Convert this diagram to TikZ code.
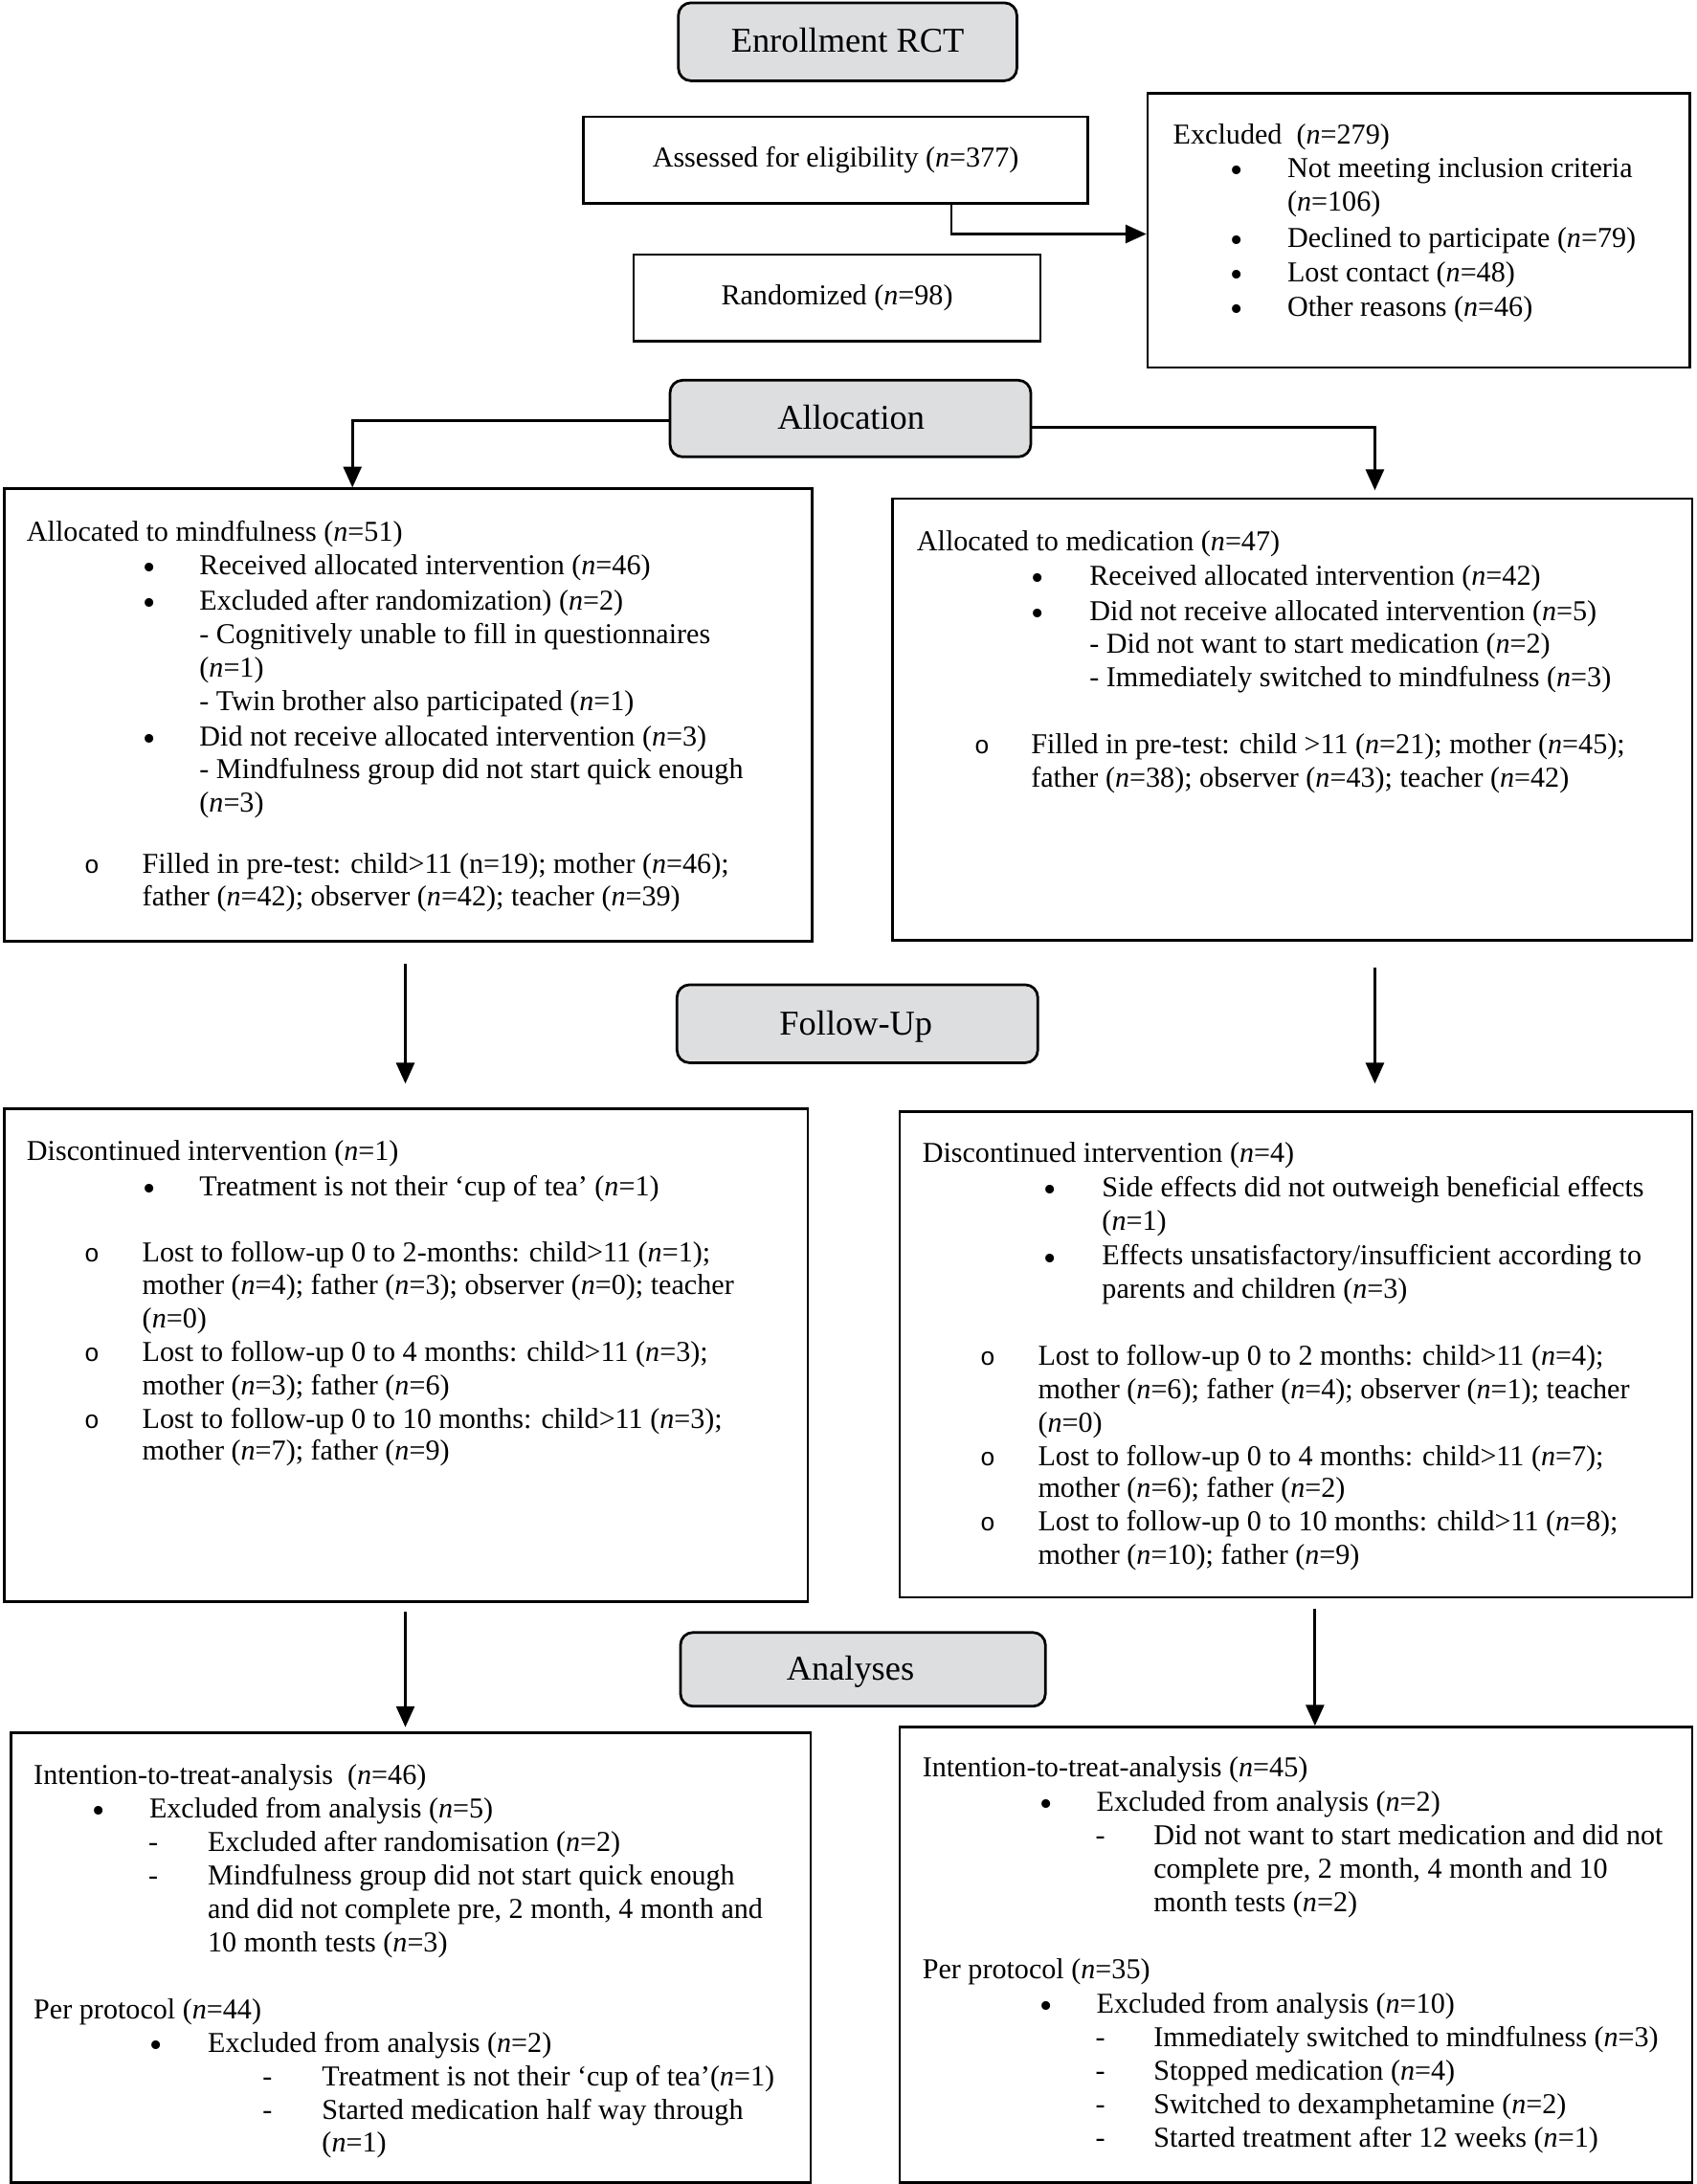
\documentclass[tikz,border=0pt]{standalone}
\usepackage{fontspec}
\setmainfont{Liberation Serif}
\newfontfamily\monofam{Liberation Mono}
\usetikzlibrary{arrows.meta}
\definecolor{titlegray}{RGB}{221,222,224}
\newcommand{\itn}{\textit{n}}
\begin{document}
\begin{tikzpicture}[x=1pt,y=-1pt,
 box/.style={draw, line width=1.8pt, inner sep=0pt, anchor=north west, font=\fontsize{20.7}{24.4}\selectfont},
 ttl/.style={draw, line width=1.9pt, rounded corners=9pt, fill=titlegray, inner sep=0pt},
 ttltxt/.style={inner sep=0pt, anchor=mid, yshift=-6pt, font=\fontsize{25}{30}\selectfont},
 txt/.style={anchor=mid west, inner sep=0pt, yshift=-5pt, font=\fontsize{20.7}{24.4}\selectfont},
 bul/.style={anchor=mid, inner sep=0pt, yshift=-5pt, font=\fontsize{20.7}{24.4}\selectfont},
 dot/.style={anchor=mid, inner sep=0pt, yshift=-8.5pt, font=\fontsize{26}{26}\selectfont},
 circ/.style={anchor=mid, inner sep=0pt, yshift=-5pt, font=\monofam\fontsize{18}{24}\selectfont},
 arr/.style={line width=2pt, -{Triangle[length=15pt,width=13pt]}}]
\useasboundingbox (0,0) rectangle (1218,1568);

% ---------- Enrollment ----------
\node[ttl, minimum width=243pt, minimum height=56pt] (enr) at (608.5,30) {};
\node[ttltxt] (enrT) at (608.5,29) {Enrollment RCT};

\node[box, minimum width=362pt, minimum height=62pt] (assess) at (418,83) {\raisebox{-1.5pt}{Assessed for eligibility (\itn=377)}};
\node[box, minimum width=292pt, minimum height=62pt] (rand) at (454,182) {\raisebox{-1.5pt}{Randomized (\itn=98)}};

\node[box, minimum width=389pt, minimum height=197pt] (excl) at (823,66) {};
\node[txt] (e0) at (842,96) {Excluded\ \ (\itn=279)};
\node[dot] (eb1) at (888,120) {\textbullet};
\node[txt] (e1) at (924,120) {Not meeting inclusion criteria};
\node[txt] (e2) at (924,144) {(\itn=106)};
\node[dot] (eb3) at (888,170) {\textbullet};
\node[txt] (e3) at (924,170) {Declined to participate (\itn=79)};
\node[dot] (eb4) at (888,195) {\textbullet};
\node[txt] (e4) at (924,195) {Lost contact (\itn=48)};
\node[dot] (eb5) at (888,220) {\textbullet};
\node[txt] (e5) at (924,220) {Other reasons (\itn=46)};

\coordinate (k1) at (683,168);
\draw[arr] (assess.south -| k1) |- (excl.west |- k1);

% ---------- Allocation ----------
\node[ttl, minimum width=259pt, minimum height=55pt] (alloc) at (610.5,300.5) {};
\node[ttltxt] (allocT) at (611,300) {Allocation};

\node[box, minimum width=580pt, minimum height=325pt] (mind) at (2,350) {};
\node[txt] (m0) at (19,381) {Allocated to mindfulness (\itn=51)};
\node[dot] (mb1) at (107,405) {\textbullet};
\node[txt] (m1) at (143,405) {Received allocated intervention (\itn=46)};
\node[dot] (mb2) at (107,431) {\textbullet};
\node[txt] (m2) at (143,431) {Excluded after randomization) (\itn=2)};
\node[txt] (m3) at (143,455) {- Cognitively unable to fill in questionnaires};
\node[txt] (m4) at (143,479) {(\itn=1)};
\node[txt] (m5) at (143,503) {- Twin brother also participated (\itn=1)};
\node[dot] (mb6) at (107,528) {\textbullet};
\node[txt] (m6) at (143,528) {Did not receive allocated intervention (\itn=3)};
\node[txt] (m7) at (143,552) {- Mindfulness group did not start quick enough};
\node[txt] (m8) at (143,576) {(\itn=3)};
\node[circ] (mc9) at (66,620) {o};
\node[txt] (m9) at (102,620) {Filled in pre-test: child>11 (n=19); mother (\itn=46);};
\node[txt] (m10) at (102,643) {father (\itn=42); observer (\itn=42); teacher (\itn=39)};

\node[box, minimum width=574pt, minimum height=317pt] (med) at (640,357) {};
\node[txt] (d0) at (658,388) {Allocated to medication (\itn=47)};
\node[dot] (db1) at (745,413) {\textbullet};
\node[txt] (d1) at (782,413) {Received allocated intervention (\itn=42)};
\node[dot] (db2) at (745,438) {\textbullet};
\node[txt] (d2) at (782,438) {Did not receive allocated intervention (\itn=5)};
\node[txt] (d3) at (782,462) {- Did not want to start medication (\itn=2)};
\node[txt] (d4) at (782,486) {- Immediately switched to mindfulness (\itn=3)};
\node[circ] (dc5) at (705,534) {o};
\node[txt] (d5) at (740,534) {Filled in pre-test: child >11 (\itn=21); mother (\itn=45);};
\node[txt] (d6) at (740,558) {father (\itn=38); observer (\itn=43); teacher (\itn=42)};

\coordinate (k2) at (253,302);
\coordinate (k3) at (987,307);
\draw[arr] (alloc.west |- k2) -| (mind.north -| k2);
\draw[arr, shorten >=5pt] (alloc.east |- k3) -| (med.north -| k3);

% ---------- Follow-Up ----------
\node[ttl, minimum width=259pt, minimum height=56pt] (fu) at (615.5,735) {};
\node[ttltxt] (fuT) at (614.5,735) {Follow-Up};

\node[box, minimum width=577pt, minimum height=354pt] (fuL) at (2,795) {};
\node[txt] (f0) at (19,826) {Discontinued intervention (\itn=1)};
\node[dot] (fb1) at (107,851) {\textbullet};
\node[txt] (f1) at (143,851) {Treatment is not their ‘cup of tea’ (\itn=1)};
\node[circ] (fc2) at (66,899) {o};
\node[txt] (f2) at (102,899) {Lost to follow-up 0 to 2-months: child>11 (\itn=1);};
\node[txt] (f3) at (102,922) {mother (\itn=4); father (\itn=3); observer (\itn=0); teacher};
\node[txt] (f4) at (102,946) {(\itn=0)};
\node[circ] (fc5) at (66,970) {o};
\node[txt] (f5) at (102,970) {Lost to follow-up 0 to 4 months: child>11 (\itn=3);};
\node[txt] (f6) at (102,994) {mother (\itn=3); father (\itn=6)};
\node[circ] (fc7) at (66,1018) {o};
\node[txt] (f7) at (102,1018) {Lost to follow-up 0 to 10 months: child>11 (\itn=3);};
\node[txt] (f8) at (102,1041) {mother (\itn=7); father (\itn=9)};

\node[box, minimum width=569pt, minimum height=349pt] (fuR) at (645,797) {};
\node[txt] (g0) at (662,827) {Discontinued intervention (\itn=4)};
\node[dot] (gb1) at (754,852) {\textbullet};
\node[txt] (g1) at (791,852) {Side effects did not outweigh beneficial effects};
\node[txt] (g2) at (791,876) {(\itn=1)};
\node[dot] (gb3) at (754,901) {\textbullet};
\node[txt] (g3) at (791,901) {Effects unsatisfactory/insufficient according to};
\node[txt] (g4) at (791,925) {parents and children (\itn=3)};
\node[circ] (gc5) at (709,973) {o};
\node[txt] (g5) at (745,973) {Lost to follow-up 0 to 2 months: child>11 (\itn=4);};
\node[txt] (g6) at (745,997) {mother (\itn=6); father (\itn=4); observer (\itn=1); teacher};
\node[txt] (g7) at (745,1021) {(\itn=0)};
\node[circ] (gc8) at (709,1045) {o};
\node[txt] (g8) at (745,1045) {Lost to follow-up 0 to 4 months: child>11 (\itn=7);};
\node[txt] (g9) at (745,1068) {mother (\itn=6); father (\itn=2)};
\node[circ] (gc10) at (709,1092) {o};
\node[txt] (g10) at (745,1092) {Lost to follow-up 0 to 10 months: child>11 (\itn=8);};
\node[txt] (g11) at (745,1116) {mother (\itn=10); father (\itn=9)};

\coordinate (k4) at (291,0);
\coordinate (k5) at (987,0);
\draw[arr, shorten <=15pt, shorten >=17pt] (mind.south -| k4) -- (fuL.north -| k4);
\draw[arr, shorten <=19pt, shorten >=19pt] (med.south -| k5) -- (fuR.north -| k5);

% ---------- Analyses ----------
\node[ttl, minimum width=262pt, minimum height=53pt] (an) at (619.5,1198.5) {};
\node[ttltxt] (anT) at (610.5,1198) {Analyses};

\node[box, minimum width=574pt, minimum height=323pt] (anL) at (7,1243) {};
\node[txt] (a0) at (24,1274) {Intention-to-treat-analysis\ \ (\itn=46)};
\node[dot] (ab1) at (71,1298) {\textbullet};
\node[txt] (a1) at (107,1298) {Excluded from analysis (\itn=5)};
\node[bul] (ad2) at (110,1322) {-};
\node[txt] (a2) at (149,1322) {Excluded after randomisation (\itn=2)};
\node[bul] (ad3) at (110,1346) {-};
\node[txt] (a3) at (149,1346) {Mindfulness group did not start quick enough};
\node[txt] (a4) at (149,1370) {and did not complete pre, 2 month, 4 month and};
\node[txt] (a5) at (149,1394) {10 month tests (\itn=3)};
\node[txt] (a6) at (24,1442) {Per protocol (\itn=44)};
\node[dot] (ab7) at (112,1466) {\textbullet};
\node[txt] (a7) at (149,1466) {Excluded from analysis (\itn=2)};
\node[bul] (ad8) at (192,1490) {-};
\node[txt] (a8) at (231,1490) {Treatment is not their ‘cup of tea’(\itn=1)};
\node[bul] (ad9) at (192,1514) {-};
\node[txt] (a9) at (231,1514) {Started medication half way through};
\node[txt] (a10) at (231,1538) {(\itn=1)};

\node[box, minimum width=569pt, minimum height=327pt] (anR) at (645,1239) {};
\node[txt] (b0) at (662,1268) {Intention-to-treat-analysis (\itn=45)};
\node[dot] (bb1) at (751,1293) {\textbullet};
\node[txt] (b1) at (787,1293) {Excluded from analysis (\itn=2)};
\node[bul] (bd2) at (790,1317) {-};
\node[txt] (b2) at (828,1317) {Did not want to start medication and did not};
\node[txt] (b3) at (828,1341) {complete pre, 2 month, 4 month and 10};
\node[txt] (b4) at (828,1365) {month tests (\itn=2)};
\node[txt] (b5) at (662,1413) {Per protocol (\itn=35)};
\node[dot] (bb6) at (751,1438) {\textbullet};
\node[txt] (b6) at (787,1438) {Excluded from analysis (\itn=10)};
\node[bul] (bd7) at (790,1462) {-};
\node[txt] (b7) at (828,1462) {Immediately switched to mindfulness (\itn=3)};
\node[bul] (bd8) at (790,1486) {-};
\node[txt] (b8) at (828,1486) {Stopped medication (\itn=4)};
\node[bul] (bd9) at (790,1510) {-};
\node[txt] (b9) at (828,1510) {Switched to dexamphetamine (\itn=2)};
\node[bul] (bd10) at (790,1534) {-};
\node[txt] (b10) at (828,1534) {Started treatment after 12 weeks (\itn=1)};

\coordinate (k6) at (291,0);
\coordinate (k7) at (944,0);
\draw[arr, shorten <=6pt, shorten >=3pt] (fuL.south -| k6) -- (anL.north -| k6);
\draw[arr, shorten <=7pt] (fuR.south -| k7) -- (anR.north -| k7);
\end{tikzpicture}
\end{document}
